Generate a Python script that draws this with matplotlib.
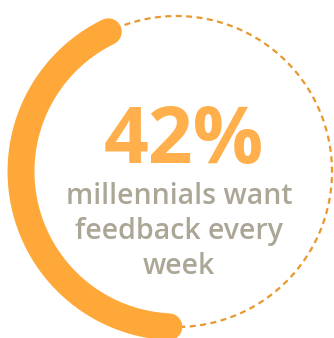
#!/usr/bin/env python3

import numpy as np
import matplotlib
matplotlib.use("Agg")
import matplotlib.pyplot as plt

# stat shown in the ring
share = 0.42
headline = "42%"
caption_lines = ["millennials want", "feedback every", "week"]

ring_color = "#FFA83A"
dash_color = "#E8982E"
head_color = "#FFB04C"
text_color = "#ABA696"


def ring_points(start_deg, end_deg, cx, cy, r, n=400):
    t = np.radians(np.linspace(start_deg, end_deg, n))
    # y axis points down (pixel coords), so flip the sine
    return cx + r * np.cos(t), cy - r * np.sin(t)


fig = plt.figure(figsize=(3.34, 3.38), dpi=100)
ax = fig.add_axes([0, 0, 1, 1])
ax.set_xlim(0, 334)
ax.set_ylim(338, 0)
ax.set_aspect("equal")
ax.axis("off")

cx, cy, r = 176.5, 171.5, 155.5

# filled part of the ring, centred around the left side
span = share * 360
mid = 191.6
a0, a1 = mid - span / 2, mid + span / 2
x, y = ring_points(a0, a1, cx, cy, r)
ax.plot(x, y, color=ring_color, lw=19.4, solid_capstyle="round", zorder=3)

# remaining part as a thin dashed line
x, y = ring_points(a1, a0 + 360, cx, cy, r)
ax.plot(x, y, color=dash_color, lw=1.6, linestyle=(0, (2.7, 2.0)),
        dash_capstyle="butt", zorder=2)

ax.text(183.5, 163, headline, color=head_color, fontsize=56.5,
        fontfamily="Open Sans", fontweight="bold", ha="center", va="baseline")

baselines = [204, 239, 274.5]
for line, yb in zip(caption_lines, baselines):
    ax.text(179, yb, line, color=text_color, fontsize=20.5,
            fontfamily="Open Sans", fontweight="semibold", ha="center", va="baseline")

plt.savefig("out.png", dpi=100)
